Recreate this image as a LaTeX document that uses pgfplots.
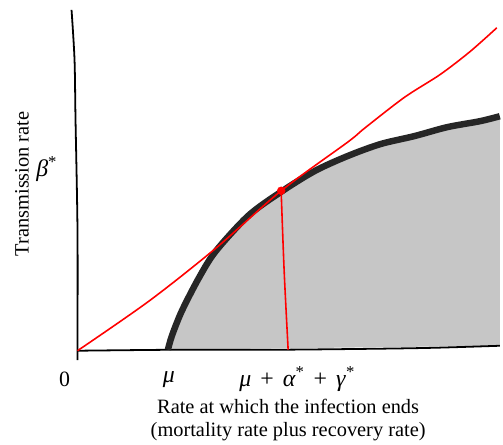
\documentclass[border=0pt]{standalone}
\usepackage{fontspec}
\setmainfont{Liberation Serif}
\usepackage{pgfplots}
\pgfplotsset{compat=1.18}
\begin{document}
\begin{tikzpicture}
\begin{axis}[
    width=503pt, height=446pt, scale only axis,
    xmin=-78, xmax=425, ymin=-93, ymax=353,
    axis lines=none, ticks=none, clip=false,
]
\path (rel axis cs:0,0) rectangle (rel axis cs:1,1);
% shaded region under the boundary curve
\addplot[draw=none, fill=gray!45] coordinates {
    (91,1) (95,15) (105,40) (122,73) (139,100) (172,136) (205,160) (239,181)
    (272,196) (305,208) (339,216) (372,225) (405,231) (425,236) (425,5) (91,1)
} -- cycle;
% hand-drawn axes
\addplot[black, line width=1.8pt, smooth] coordinates {
    (0,-6) (0,0) (0,120) (-2,233) (-3,293) (-6,343)
};
\addplot[black, line width=1.8pt, smooth] coordinates {
    (0,0) (100,1) (200,1) (300,2) (360,3) (425,5)
};
% boundary curve
\addplot[black!85, line width=6.5pt, smooth] coordinates {
    (91,1) (95,15) (105,40) (122,73) (139,100) (172,136) (205,160) (239,181)
    (272,196) (305,208) (339,216) (372,225) (405,231) (425,236)
};
% red line from origin
\addplot[red, line width=1.6pt, smooth] coordinates {
    (0,0) (72,50) (139,103) (205,161) (272,210) (289,224) (329,255) (365,278) (395,301) (422,325)
};
% red vertical
\addplot[red, line width=1.6pt, smooth] coordinates {
    (205,160) (208,80) (212,1)
};
\addplot[only marks, mark=*, red, mark size=4pt] coordinates {(205,161)};
% labels
\node[font=\fontsize{22}{26}\selectfont] at (axis cs:-13,-29) {0};
\node[font=\fontsize{24}{26}\selectfont] at (axis cs:92,-29) {\textit{μ}};
\node[font=\fontsize{24}{26}\selectfont] at (axis cs:221,-29) {\textit{μ}\hspace{0.38em}+\hspace{0.38em}\textit{α}\textsuperscript{*}\hspace{0.38em}+\hspace{0.38em}\textit{γ}\textsuperscript{*}};
\node[font=\fontsize{24}{26}\selectfont] at (axis cs:-31,183) {\textit{β}\textsuperscript{*}};
\node[font=\fontsize{20.5}{23}\selectfont, align=center] at (axis cs:212,-70) {Rate at which the infection ends\\(mortality rate plus recovery rate)};
\node[font=\fontsize{20.5}{23}\selectfont, rotate=90] at (axis cs:-56,168) {Transmission rate};
\end{axis}
\end{tikzpicture}
\end{document}
